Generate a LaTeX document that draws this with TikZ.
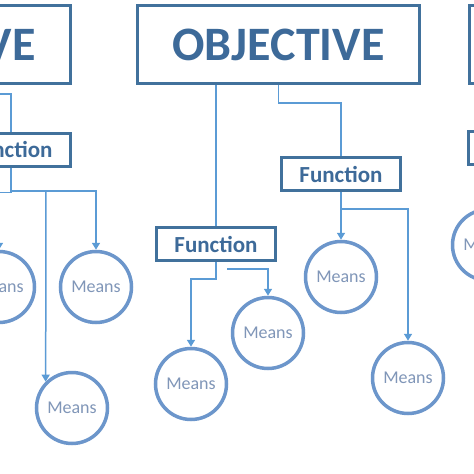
\documentclass[tikz,border=0pt]{standalone}
\usepackage{fontspec}
\setmainfont{Carlito}
\usetikzlibrary{arrows.meta}
\definecolor{boxline}{HTML}{41719C}
\definecolor{boxtext}{HTML}{3D6A99}
\definecolor{connline}{HTML}{5B9BD5}
\definecolor{circline}{HTML}{6C96CB}
\definecolor{circtext}{HTML}{8096B8}
\tikzset{
  objbox/.style={draw=boxline, line width=3pt, fill=white, minimum width=282pt, minimum height=78pt, inner sep=0pt,
    text=boxtext, font=\fontsize{48}{50}\selectfont\bfseries},
  funcbox/.style={draw=boxline, line width=3pt, fill=white, minimum width=119pt, minimum height=33pt, inner sep=0pt,
    text=boxtext, font=\fontsize{23}{25}\selectfont\bfseries},
  meansnode/.style={circle, draw=circline, line width=3.5pt, fill=white, minimum size=71pt, inner sep=0pt,
    text=circtext, font=\fontsize{18}{20}\selectfont},
  conn/.style={draw=connline, line width=1.5pt},
  connarrow/.style={conn, -{Triangle[width=8pt,length=7pt]}}
}
\begin{document}
\begin{tikzpicture}[x=1pt,y=-1pt]
\useasboundingbox (0,0) rectangle (474,474);
\clip (0,0) rectangle (474,474);
\fill[white] (0,0) rectangle (474,474);
% objective boxes
\node[objbox] (oL) at (-70.5,44.5) {OBJECTIVE};
\node[objbox] (o) at (278.5,44.5) {OBJECTIVE};
\node[objbox] (oR) at (610.5,44.5) {OBJECTIVE};
% function boxes
\node[funcbox] (fL) at (11,149.5) {Function};
\node[funcbox] (f1) at (216,244) {Function};
\node[funcbox] (f2) at (341,174) {Function};
\node[funcbox] (fR) at (528,147.5) {Function};
% means circles
\node[meansnode] (mL1) at (-1,287) {Means};
\node[meansnode] (mL2) at (96,287) {Means};
\node[meansnode] (mL3) at (72,408) {Means};
\node[meansnode] (m1a) at (191,384) {Means};
\node[meansnode] (m1b) at (268,333) {Means};
\node[meansnode] (m2a) at (341,277) {Means};
\node[meansnode] (m2b) at (408,378) {Means};
\node[meansnode] (mR) at (488,245) {Means};
% coordinates
\coordinate (lin) at (-5,94);
\coordinate (jL) at (11,191);
\coordinate (jL2) at (46,191);
\coordinate (j1) at (227,269);
\coordinate (j2) at (341,209);
% central connectors
\draw[conn] (o.south -| f1.north) -- (f1.north);
\draw[conn] (o.south) -- ++(0,18) -| (f2.north);
\draw[connarrow] (f2.south) -- (m2a.north);
\draw[connarrow] (j2) -| (m2b.north);
\draw[connarrow] (f1.south) -- ++(0,17) -| (m1a.north);
\draw[connarrow] (j1) -| (m1b.north);
% left connectors
\draw[conn] (lin) -| (fL.north);
\draw[connarrow] (fL.south) -- ++(0,25) -| (mL1.north);
\draw[connarrow] (jL) -| (mL2.north);
\draw[connarrow] (jL2) -- (mL3.north west);
\end{tikzpicture}
\end{document}
